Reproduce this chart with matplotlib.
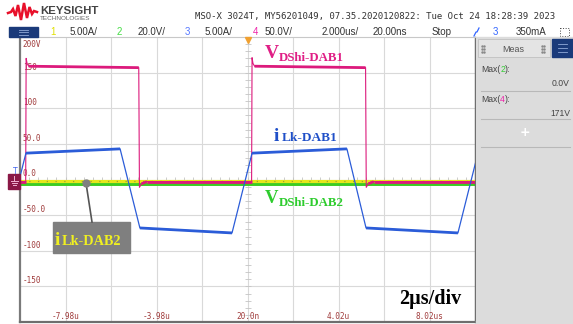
import matplotlib
matplotlib.use('Agg')
import matplotlib.pyplot as plt
from matplotlib.patches import Rectangle
import matplotlib.transforms as mtransforms
import numpy as np

# scope settings
T_DIV = 2.0        # us/div
T_CENTER = 0.02    # us at screen centre
CH1_SCALE = 5.0    # A/div  (yellow)
CH2_SCALE = 20.0   # V/div  (green)
CH3_SCALE = 5.0    # A/div  (blue)
CH4_SCALE = 50.0   # V/div  (magenta, graticule labels)

# ch4 : V_DShi-DAB1 [V]
t_vds1 = [-10.60, -9.73, -9.71, -9.67, -9.60, -4.76, -4.73, -4.64, -4.40,
          0.20, 0.22, 0.26, 0.33, 5.21, 5.24, 5.33, 5.57, 10.60]
v_vds1 = [-3, -3, 170, 163, 159, 157, -11, -6, -3,
          -3, 171, 163, 159, 157, -11, -6, -3, -3]

# ch3 : iLk-DAB1 [A]
t_ilk1 = [-10.60, -9.72, -5.58, -4.71, -0.66, 0.22, 4.39, 5.23, 9.27, 10.15]
i_ilk1 = [-7.5, 3.7, 4.3, -6.8, -7.5, 3.7, 4.3, -6.8, -7.5, 3.7]

# ch2 : V_DShi-DAB2 [V]
t_vds2 = [-10.0, 10.1]
v_vds2 = [0.0, 0.0]

# ch1 : iLk-DAB2 [A]
t_ilk2 = [-10.0, 10.1]
i_ilk2 = [-0.15, -0.15]

y_labels = ['200V', '150', '100', '50.0', '0.0', '-50.0', '-100', '-150']
x_labels = ['-7.98u', '-3.98u', '20.0n', '4.02u', '8.02us']

MAG = '#dc1a7c'
BLUE = '#2b5cd8'
GREEN = '#3ccc22'
YEL = '#e6e61a'
GRID = '#d9d9d9'

fig = plt.figure(figsize=(5.73, 3.24), dpi=100)
W, H = 573.0, 324.0
ax = fig.add_axes([20 / W, 2 / H, 455 / W, 285 / H])
ax.set_xlim(T_CENTER - 5 * T_DIV, T_CENTER + 5 * T_DIV)
ax.set_ylim(-4, 4)
ax.set_xticks([])
ax.set_yticks([])
for k in range(-4, 5):
    ax.axvline(T_CENTER + k * T_DIV, color=GRID, lw=0.8, zorder=0)
for k in range(-3, 4):
    ax.axhline(k, color=GRID, lw=0.8, zorder=0)
# minor ticks on the centre cross
mx = T_CENTER + np.arange(-25, 26) * T_DIV / 5
my = np.arange(-20, 21) / 5
ax.plot(mx, np.zeros_like(mx), ls='none', marker='|', ms=4, mew=0.6, color='#c4c4c4', zorder=0)
ax.plot(np.full_like(my, T_CENTER), my, ls='none', marker='_', ms=4, mew=0.6, color='#c4c4c4', zorder=0)

ax.spines['left'].set_color('#7a7a7a')
ax.spines['left'].set_linewidth(1.6)
ax.spines['bottom'].set_color('#6e6e6e')
ax.spines['bottom'].set_linewidth(1.6)
ax.spines['top'].set_color('#c8c8c8')
ax.spines['top'].set_linewidth(0.8)
ax.spines['right'].set_color('#555555')
ax.spines['right'].set_linewidth(1.0)


def trace(t, v, scale, color, lw_flat, lw_edge, pos=0.0, z=3):
    t = np.asarray(t, float)
    d = np.asarray(v, float) / scale + pos
    ax.plot(t, d, color=color, lw=lw_edge, zorder=z)
    for k in range(len(t) - 1):
        slope = abs(d[k + 1] - d[k]) / (t[k + 1] - t[k]) * T_DIV
        if slope < 1:
            ax.plot(t[k:k + 2], d[k:k + 2], color=color, lw=lw_flat, zorder=z,
                    solid_capstyle='butt')


trace(t_vds2, v_vds2, CH2_SCALE, GREEN, 1.9, 1.9, pos=-0.12, z=2)
trace(t_ilk2, i_ilk2, CH1_SCALE, YEL, 2.2, 2.2, z=3)
ax.plot(t_ilk2, np.asarray(i_ilk2) / CH1_SCALE, color='#a0a030', lw=0.9,
        dashes=(1, 6), zorder=3)
trace(t_vds1, v_vds1, CH4_SCALE, MAG, 2.0, 0.8, z=4)
trace(t_ilk1, i_ilk1, CH3_SCALE, BLUE, 2.0, 0.9, z=5)

# graticule labels
tr = mtransforms.blended_transform_factory(ax.transAxes, ax.transData)
for k, lab in enumerate(y_labels):
    yv = 4 - k
    if k == 0:
        ax.text(0.006, yv - 0.08, lab, transform=tr, ha='left', va='top',
                fontsize=5.5, family='DejaVu Sans Mono', color='#a03c3c')
    else:
        ax.text(0.006, yv + 0.03, lab, transform=tr, ha='left', va='bottom',
                fontsize=5.5, family='DejaVu Sans Mono', color='#a03c3c')
for k, lab in zip([-4, -2, 0, 2, 4], x_labels):
    ax.text(T_CENTER + k * T_DIV, -3.98, lab, ha='center', va='bottom',
            fontsize=5.6, family='DejaVu Sans Mono', color='#a03c3c')

# ---- overlay in pixel coordinates
ov = fig.add_axes([0, 0, 1, 1])
ov.set_xlim(0, W)
ov.set_ylim(H, 0)
ov.axis('off')
ov.set_zorder(10)

# logo
lx = [8, 11, 13, 15.5, 18, 21, 24, 27, 29.5, 32, 34, 37]
ly = [13, 12, 9, 16, 5, 20, 3, 18, 7, 14, 11, 12]
ov.plot(lx, ly, color='#e8102a', lw=1.8, solid_joinstyle='miter')
ov.text(40, 14, 'KEYSIGHT', fontsize=8.2, weight='bold', family='Liberation Sans',
        color='#444444', va='baseline')
ov.text(40, 20, 'TECHNOLOGIES', fontsize=4.6, family='Liberation Sans',
        color='#666666', va='baseline')
ov.text(195, 16, 'MSO-X 3024T, MY56201049, 07.35.2020120822: Tue Oct 24 18:28:39 2023',
        fontsize=6.45, family='DejaVu Sans Mono', color='#333333', va='center')

# channel bar
ov.add_patch(Rectangle((9, 27), 29, 10, color='#1a3a7a'))
for yy in (29.5, 32, 34.5):
    ov.plot([19, 28], [yy, yy], color='#8fa8d8', lw=0.6)
bar = [('1', 50, '#e0e000'), ('5.00A/', 70, '#333333'), ('2', 117, '#44dd44'),
       ('20.0V/', 138, '#333333'), ('3', 185, '#5577ff'), ('5.00A/', 205, '#333333'),
       ('4', 253, '#ee22aa'), ('50.0V/', 265, '#333333'), ('2.000us/', 322, '#333333'),
       ('20.00ns', 373, '#333333'), ('Stop', 432, '#333333'), ('3', 493, '#3366ff'),
       ('350mA', 516, '#333333')]
for s, x, c in bar:
    ov.text(x, 32, s, fontsize=7, family='Liberation Sans', color=c, va='center')
ov.plot([474, 476, 477, 479], [36, 32, 32, 28], color='#3366ff', lw=0.9)
ov.add_patch(Rectangle((560, 28), 9, 8, fill=False, ec='#444444', lw=0.7, ls=':'))

# trigger markers
ov.plot([247.5], [40], marker='v', ms=5, color='#f0a030', ls='none')
ov.text(15, 171, 'T', fontsize=5.5, color='#4466ee', ha='center', va='center')
ov.add_patch(Rectangle((8, 174), 12, 15, color='#8a1846'))
ov.plot([14, 14], [176, 181], color='#f0b0d0', lw=0.7)
ov.plot([10.5, 17.5], [181, 181], color='#f0b0d0', lw=0.7)
ov.plot([11.5, 16.5], [183, 183], color='#f0b0d0', lw=0.7)
ov.plot([12.5, 15.5], [185, 185], color='#f0b0d0', lw=0.7)

# right measurement panel
ov.add_patch(Rectangle((476, 37), 97, 287, color='#dcdcdc'))
ov.add_patch(Rectangle((478, 39), 72, 18, fc='#e4e4e4', ec='#c0c0c0', lw=0.6))
ov.add_patch(Rectangle((552, 39), 21, 18, color='#1a3a7a'))
for yy in (44, 48, 52):
    ov.plot([558, 567], [yy, yy], color='#8fa8d8', lw=0.6)
ov.text(513, 49, 'Meas', fontsize=6.4, family='Liberation Sans', color='#555555',
        ha='center', va='center')
for gx in (482, 542):
    ov.plot([gx, gx, gx, gx + 2, gx + 2, gx + 2], [46, 49, 52, 46, 49, 52],
            ls='none', marker='.', ms=1.5, color='#888888')
for y0, ch, cc, val in [(70, '2', '#33cc33', '0.0V'), (100, '4', '#ee22aa', '171V')]:
    t1 = ov.text(481, y0, 'Max(', fontsize=6.2, family='Liberation Sans',
                 color='#444444', va='center')
    t2 = ov.annotate(ch, xy=(1, 0.5), xycoords=t1, fontsize=6.2, family='Liberation Sans',
                     color=cc, va='center', ha='left')
    ov.annotate('):', xy=(1, 0.5), xycoords=t2, fontsize=6.2, family='Liberation Sans',
                color='#444444', va='center', ha='left')
    ov.text(570, y0 + 13, val, fontsize=6.2, family='Liberation Sans', color='#444444',
            ha='right', va='center')
for yy in (91, 119, 147):
    ov.plot([481, 570], [yy, yy], color='#b8b8b8', lw=0.8)
ov.text(525, 133, '+', fontsize=9, weight='bold', color='white', ha='center', va='center')

# trace annotations
serif = 'Liberation Serif'
ov.text(265, 58, 'V', fontsize=14, weight='bold', family=serif, color='#e01f86', va='baseline')
ov.text(279, 61, 'DShi-DAB1', fontsize=9.3, weight='bold', family=serif, color='#e01f86',
        va='baseline')
ov.text(274, 141, 'i', fontsize=14, weight='bold', family=serif, color='#1f4fc8', va='baseline')
ov.text(281.5, 141, 'Lk-DAB1', fontsize=9.6, weight='bold', family=serif, color='#1f4fc8',
        va='baseline')
ov.text(265, 203, 'V', fontsize=13.5, weight='bold', family=serif, color='#2ecc2e', va='baseline')
ov.text(279, 206, 'DShi-DAB2', fontsize=9.3, weight='bold', family=serif, color='#2ecc2e',
        va='baseline')
ov.text(399, 304, '2\u00b5s/div', fontsize=14.5, weight='bold', family=serif, color='black',
        va='baseline')

ov.plot([92, 86], [222, 183], color='#555555', lw=1.2)
ov.plot([86], [183], marker='o', ms=5, color='#808080', ls='none')
ov.add_patch(Rectangle((53, 222), 77, 31, color='#7f7f7f'))
ov.text(55, 245, 'i', fontsize=14, weight='bold', family=serif, color='#f0f020', va='baseline')
ov.text(62, 245, 'Lk-DAB2', fontsize=10.3, weight='bold', family=serif, color='#f0f020',
        va='baseline')

fig.savefig('out.png', dpi=100)
